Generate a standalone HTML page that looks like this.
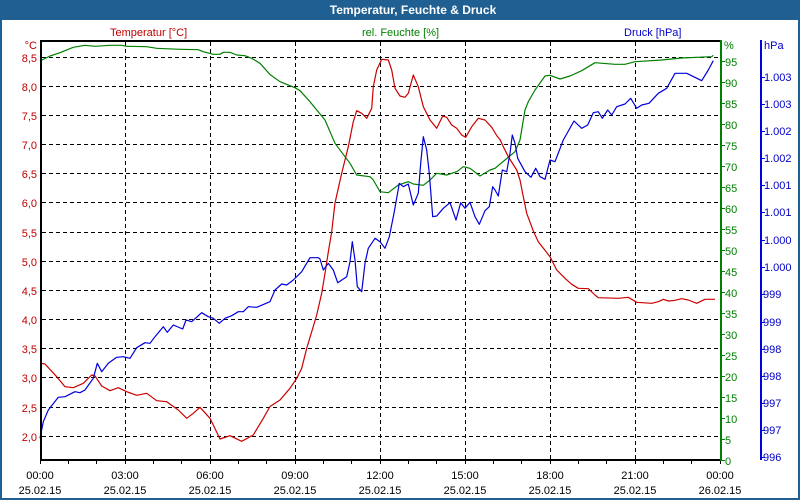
<!DOCTYPE html>
<html><head><meta charset="utf-8"><style>
html,body{margin:0;padding:0;background:#fff;}
svg{display:block;}
text{font-family:"Liberation Sans",Arial,sans-serif;font-size:11px;}
</style></head><body>
<svg width="800" height="500" viewBox="0 0 800 500" xmlns="http://www.w3.org/2000/svg">
<rect x="0" y="0" width="800" height="500" fill="#ffffff"/>
<!-- frame -->
<rect x="0" y="0" width="800" height="20" fill="#1f5f91"/>
<rect x="0" y="0" width="2" height="500" fill="#1f5f91"/>
<rect x="798" y="0" width="2" height="500" fill="#1f5f91"/>
<rect x="0" y="498" width="800" height="2" fill="#1f5f91"/>
<text x="413" y="14" text-anchor="middle" fill="#ffffff" style="font-size:12px;font-weight:bold">Temperatur, Feuchte &amp; Druck</text>

<!-- series labels -->
<text x="110" y="36" fill="#c00000">Temperatur [°C]</text>
<text x="362" y="36" fill="#008000">rel. Feuchte [%]</text>
<text x="624" y="36" fill="#0000c8">Druck [hPa]</text>

<!-- grid -->
<g stroke="#000" stroke-width="1" stroke-dasharray="4,3" shape-rendering="crispEdges">
<line x1="42" y1="57.5" x2="720" y2="57.5"/>
<line x1="42" y1="86.5" x2="720" y2="86.5"/>
<line x1="42" y1="115.5" x2="720" y2="115.5"/>
<line x1="42" y1="144.5" x2="720" y2="144.5"/>
<line x1="42" y1="173.5" x2="720" y2="173.5"/>
<line x1="42" y1="202.5" x2="720" y2="202.5"/>
<line x1="42" y1="232.5" x2="720" y2="232.5"/>
<line x1="42" y1="261.5" x2="720" y2="261.5"/>
<line x1="42" y1="290.5" x2="720" y2="290.5"/>
<line x1="42" y1="319.5" x2="720" y2="319.5"/>
<line x1="42" y1="348.5" x2="720" y2="348.5"/>
<line x1="42" y1="377.5" x2="720" y2="377.5"/>
<line x1="42" y1="407.5" x2="720" y2="407.5"/>
<line x1="42" y1="436.5" x2="720" y2="436.5"/>
<line x1="125.5" y1="42" x2="125.5" y2="459"/>
<line x1="210.5" y1="42" x2="210.5" y2="459"/>
<line x1="295.5" y1="42" x2="295.5" y2="459"/>
<line x1="380.5" y1="42" x2="380.5" y2="459"/>
<line x1="465.5" y1="42" x2="465.5" y2="459"/>
<line x1="550.5" y1="42" x2="550.5" y2="459"/>
<line x1="635.5" y1="42" x2="635.5" y2="459"/>
</g>

<!-- series -->
<g fill="none" stroke-width="1.2" stroke-linejoin="round">
<polyline stroke="#008000" points="40,61 50,56 60,52.7 73.3,47.3 85,45.3 95,46.3 110,45.3 121.7,45.3 126.7,46.3 146.7,46.7 156.7,48.3 180,49.3 198.3,49.7 203.3,51.7 213.3,54.3 220,54.3 223.3,52.3 230,52.3 236.7,55 245,55.7 251.7,58.3 260,63.3 270,74.5 280,81.7 295,87.7 300,90.7 310,101.7 320,114 325,120 335,143.3 345,156.7 350,163.3 356.7,175 370,176.7 373.3,180 380,191.7 388.3,192.7 398.3,185 408.3,181.7 413.3,184 423.3,185.3 430,180 436.7,173.3 446.7,175 456.7,171.7 463.3,166.7 470,168.3 480,176 490,170 495,168.3 505,160 515,151.7 520,140 525,110 528.3,101.7 535,90 545,76 550,75.3 560,79 570,76 581.7,70.7 595,62.7 615,64.3 625,64.3 635,61.7 661.7,60 681.7,58 711.7,56.7 713.3,55.3"/>
<polyline stroke="#cc0000" points="40,363.3 45,364 56.7,376.7 65,386.7 73.3,387.7 83.3,383.3 91.7,375 95,376 101.7,386 110,390.7 118.3,387.7 126.7,391.7 136.7,395.3 146.7,393.3 156.7,400.7 166.7,401.7 178.3,410 186.7,418.3 193.3,413.3 200,407.3 210,418.3 220,439 230,435.7 241.7,441.3 253.3,435 263.3,418.3 270,406.5 280,400 290,388.3 296.7,378.3 301.7,368.3 306.7,348.3 311.7,331.7 316.7,315 321.7,293.3 325,273.3 328.3,252 331.7,231.7 335,203 341.7,173.3 348.3,146.7 353.3,121.7 356.7,110.7 361.7,113.3 366.7,118.3 371.7,108.3 373.3,86.7 376.7,70 381.7,59.3 388.3,60 391.7,70 395,88.3 400,96 405,97.3 408.3,93.3 413.3,75 418.3,86.7 423.3,106.7 430,120 436.7,128.3 442.7,116 446.7,117.3 451.7,125 456.7,128.3 461.7,135 465.7,137.3 471.7,126.7 478.3,118.3 485,120 491.7,127.3 497,136 500,139.5 503.3,146.7 508.3,156.7 516.7,170 520,180 523.3,196.7 526.7,213.3 533.3,231 538.3,241.7 550,256.7 556.7,270 565,278.3 571.7,284.3 578.3,288.3 588.3,288.7 595,295 598.3,297.7 618.3,298.3 628.3,297.3 636.7,302.3 651.7,303.3 658.3,301.7 663.3,299.3 668.3,301 675,300.3 681.7,298.7 688.3,300 696.7,303.3 705,299.3 715,299.3"/>
<polyline stroke="#0000dd" points="40,438.3 43.3,421.7 48.3,410 58.3,397.3 65,396.7 75,391.7 80,392.7 85,390 93.3,378.3 97.3,363.3 101.7,371.7 108.3,363.3 116.7,357.3 123.3,356.7 130,358.3 136.7,347.7 145,342.7 150,343.3 155,336.7 163.3,326.7 167.3,332.3 173.3,325 182.7,329 186,320 191.7,321.7 201.7,312.7 208.3,316.7 213.3,318.3 219.3,323.3 225,318.3 231.7,315.7 238.3,311.7 243.3,311.7 248.3,306.7 256.7,307.3 270,301.7 275,290 281.7,284 286.7,285 293.3,280 301.7,271.7 310,257.7 318.3,257.7 320,259 323.3,270 328.3,263.3 333.3,270 337.7,282.7 346.7,276.7 350,261.7 352.3,241.7 355,260 357.3,286.7 361.7,291.7 365,263.3 368.3,248.3 375,238.3 380,241.7 385,248.3 389.3,236.7 394,213.3 399.3,183.3 403.3,186.7 408.3,184 413.3,205 418.3,193.3 420.7,163.3 423.3,136.7 426.7,150 429.3,173.3 432.7,216.7 436.7,216 443.3,208.3 450,202.7 456,220 460.7,202.7 465,208.3 470,202.3 475,216.7 479.3,224.3 485,210.7 489.3,206.7 492.7,186.7 495,190 498.3,196 502.3,170 506.7,171.7 510,153.3 512.3,135 515,143.3 517.7,158.3 525,171.7 531,177.3 535.7,168.3 540,176.7 545,179.3 550,160 555,161.7 563.3,140 574,121 581.7,128.3 587.7,125 593.3,112.7 598.3,111.7 602.3,118.3 607.7,110 611.7,115 616.7,106.7 625,104 630.7,98.3 636.7,108.3 641.7,105 649,103.3 658.3,93.3 666.7,88.3 675,73.3 686.7,73.3 701.7,80.7 708.3,70 713.3,60.7"/>
</g>

<!-- axes -->
<rect x="40" y="40" width="682" height="2" fill="#000"/>
<rect x="40" y="40" width="2" height="421" fill="#000"/>
<rect x="40" y="459" width="682" height="2" fill="#000"/>
<rect x="720" y="40" width="2" height="421" fill="#008000"/>
<rect x="760" y="40" width="2" height="420" fill="#0000dd"/>

<!-- bottom ticks -->
<g stroke="#000" stroke-width="1" shape-rendering="crispEdges">
<line x1="40.5" y1="461" x2="40.5" y2="464"/><line x1="68.5" y1="461" x2="68.5" y2="464"/><line x1="96.5" y1="461" x2="96.5" y2="464"/>
<line x1="125.5" y1="461" x2="125.5" y2="464"/><line x1="153.5" y1="461" x2="153.5" y2="464"/><line x1="181.5" y1="461" x2="181.5" y2="464"/>
<line x1="210.5" y1="461" x2="210.5" y2="464"/><line x1="238.5" y1="461" x2="238.5" y2="464"/><line x1="266.5" y1="461" x2="266.5" y2="464"/>
<line x1="295.5" y1="461" x2="295.5" y2="464"/><line x1="323.5" y1="461" x2="323.5" y2="464"/><line x1="351.5" y1="461" x2="351.5" y2="464"/>
<line x1="380.5" y1="461" x2="380.5" y2="464"/><line x1="408.5" y1="461" x2="408.5" y2="464"/><line x1="436.5" y1="461" x2="436.5" y2="464"/>
<line x1="465.5" y1="461" x2="465.5" y2="464"/><line x1="493.5" y1="461" x2="493.5" y2="464"/><line x1="521.5" y1="461" x2="521.5" y2="464"/>
<line x1="550.5" y1="461" x2="550.5" y2="464"/><line x1="578.5" y1="461" x2="578.5" y2="464"/><line x1="606.5" y1="461" x2="606.5" y2="464"/>
<line x1="635.5" y1="461" x2="635.5" y2="464"/><line x1="663.5" y1="461" x2="663.5" y2="464"/><line x1="691.5" y1="461" x2="691.5" y2="464"/>
<line x1="720.5" y1="461" x2="720.5" y2="464"/>
</g>
<g fill="#000" text-anchor="middle">
<text x="40" y="479">00:00</text><text x="40" y="494">25.02.15</text>
<text x="125" y="479">03:00</text><text x="125" y="494">25.02.15</text>
<text x="210" y="479">06:00</text><text x="210" y="494">25.02.15</text>
<text x="295" y="479">09:00</text><text x="295" y="494">25.02.15</text>
<text x="380" y="479">12:00</text><text x="380" y="494">25.02.15</text>
<text x="465" y="479">15:00</text><text x="465" y="494">25.02.15</text>
<text x="550" y="479">18:00</text><text x="550" y="494">25.02.15</text>
<text x="635" y="479">21:00</text><text x="635" y="494">25.02.15</text>
<text x="720" y="479">00:00</text><text x="720" y="494">26.02.15</text>
</g>

<!-- left labels -->
<g fill="#c00000" text-anchor="end">
<text x="37" y="49">°C</text>
<text x="37" y="62">8,5</text>
<text x="37" y="91">8,0</text>
<text x="37" y="120">7,5</text>
<text x="37" y="149">7,0</text>
<text x="37" y="178">6,5</text>
<text x="37" y="207">6,0</text>
<text x="37" y="237">5,5</text>
<text x="37" y="266">5,0</text>
<text x="37" y="295">4,5</text>
<text x="37" y="324">4,0</text>
<text x="37" y="353">3,5</text>
<text x="37" y="382">3,0</text>
<text x="37" y="412">2,5</text>
<text x="37" y="441">2,0</text>
</g>

<!-- green axis -->
<g stroke="#008000" stroke-width="1" shape-rendering="crispEdges">
<line x1="722" y1="460.5" x2="725" y2="460.5"/><line x1="722" y1="439.5" x2="725" y2="439.5"/><line x1="722" y1="418.5" x2="725" y2="418.5"/>
<line x1="722" y1="397.5" x2="725" y2="397.5"/><line x1="722" y1="376.5" x2="725" y2="376.5"/><line x1="722" y1="355.5" x2="725" y2="355.5"/>
<line x1="722" y1="334.5" x2="725" y2="334.5"/><line x1="722" y1="313.5" x2="725" y2="313.5"/><line x1="722" y1="292.5" x2="725" y2="292.5"/>
<line x1="722" y1="271.5" x2="725" y2="271.5"/><line x1="722" y1="250.5" x2="725" y2="250.5"/><line x1="722" y1="229.5" x2="725" y2="229.5"/>
<line x1="722" y1="208.5" x2="725" y2="208.5"/><line x1="722" y1="187.5" x2="725" y2="187.5"/><line x1="722" y1="166.5" x2="725" y2="166.5"/>
<line x1="722" y1="145.5" x2="725" y2="145.5"/><line x1="722" y1="124.5" x2="725" y2="124.5"/><line x1="722" y1="103.5" x2="725" y2="103.5"/>
<line x1="722" y1="82.5" x2="725" y2="82.5"/><line x1="722" y1="61.5" x2="725" y2="61.5"/>
</g>
<g fill="#008000">
<text x="724" y="49">%</text>
<text x="725" y="465">0</text><text x="725" y="444">5</text><text x="725" y="423">10</text><text x="725" y="402">15</text>
<text x="725" y="381">20</text><text x="725" y="360">25</text><text x="725" y="339">30</text><text x="725" y="318">35</text>
<text x="725" y="297">40</text><text x="725" y="276">45</text><text x="725" y="255">50</text><text x="725" y="234">55</text>
<text x="725" y="213">60</text><text x="725" y="192">65</text><text x="725" y="171">70</text><text x="725" y="150">75</text>
<text x="725" y="129">80</text><text x="725" y="108">85</text><text x="725" y="87">90</text><text x="725" y="66">95</text>
</g>

<!-- blue axis -->
<g stroke="#0000dd" stroke-width="1" shape-rendering="crispEdges">
<line x1="762" y1="77.5" x2="765" y2="77.5"/><line x1="762" y1="104.5" x2="765" y2="104.5"/><line x1="762" y1="131.5" x2="765" y2="131.5"/>
<line x1="762" y1="158.5" x2="765" y2="158.5"/><line x1="762" y1="185.5" x2="765" y2="185.5"/><line x1="762" y1="212.5" x2="765" y2="212.5"/>
<line x1="762" y1="240.5" x2="765" y2="240.5"/><line x1="762" y1="267.5" x2="765" y2="267.5"/><line x1="762" y1="294.5" x2="765" y2="294.5"/>
<line x1="762" y1="322.5" x2="765" y2="322.5"/><line x1="762" y1="349.5" x2="765" y2="349.5"/><line x1="762" y1="376.5" x2="765" y2="376.5"/>
<line x1="762" y1="403.5" x2="765" y2="403.5"/><line x1="762" y1="430.5" x2="765" y2="430.5"/><line x1="762" y1="457.5" x2="765" y2="457.5"/>
</g>
<g fill="#0000c8">
<text x="764" y="49">hPa</text>
<text x="764" y="81">1.003</text><text x="764" y="108">1.003</text><text x="764" y="135">1.002</text>
<text x="764" y="162">1.002</text><text x="764" y="189">1.001</text><text x="764" y="216">1.001</text>
<text x="764" y="244">1.000</text><text x="764" y="271">1.000</text><text x="763" y="298">999</text>
<text x="763" y="326">999</text><text x="763" y="353">998</text><text x="763" y="380">998</text>
<text x="763" y="407">997</text><text x="763" y="434">997</text><text x="763" y="461">996</text>
</g>
</svg>
</body></html>
